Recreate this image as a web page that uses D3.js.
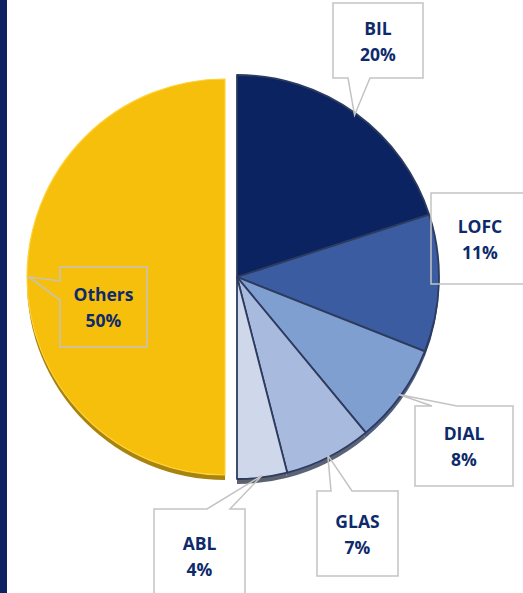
<!DOCTYPE html>
<html>
<head>
<meta charset="utf-8">
<script src="https://cdn.jsdelivr.net/npm/d3@7"></script>
<style>
  body { margin: 0; background: #fff; }
  svg { display: block; }
  .lbl { font-family: "Open Sans", sans-serif; font-weight: 700; font-size: 17.5px; fill: #0d2a6b; }
</style>
</head>
<body>
<div id="chart"></div>
<script>
// chart data
const names = ["BIL", "LOFC", "DIAL", "GLAS", "ABL", "Others"];
const shares = [20, 11, 8, 7, 4, 50];
const colors = ["#0b2461", "#3b5ca0", "#7f9fd1", "#a9badf", "#cfd8ea", "#f6bf0c"];
const rimColors = ["#0a1c44", "#2c426f", "#4f5f80", "#5a6377", "#5c6170", "#a8830e"];

// callout boxes: [x, y, w, h], pointer side and base
const boxes = [
  { box: [333, 3, 90, 75], side: "bottom", base: [348, 370] },
  { box: [431, 193, 95, 91], side: null, base: null },
  { box: [415, 406, 98, 80], side: "top", base: [432, 457] },
  { box: [317, 491, 81, 85], side: "top", base: [331, 352] },
  { box: [154, 509, 91, 90], side: "top", base: [207, 230] },
  { box: [60, 267, 87, 80], side: "left", base: [281, 300] }
];

const width = 523;
const height = 593;
const cx = 237, cy = 277;
const radius = 202;
const othersShift = -12;

const svg = d3.select("#chart").append("svg")
  .attr("width", width)
  .attr("height", height);

// left navy strip
svg.append("rect")
  .attr("x", 0).attr("y", 0)
  .attr("width", 7).attr("height", height)
  .attr("fill", "#0b2461");

const data = names.map((n, i) => ({ name: n, value: shares[i], i: i }));

const pie = d3.pie().sort(null).value(d => d.value);
const arcs = pie(data);

const arc = d3.arc().innerRadius(0).outerRadius(d => d.data.name === "Others" ? radius - 4 : radius);

const g = svg.append("g").attr("transform", `translate(${cx},${cy})`);

function shift(d) {
  return d.data.name === "Others" ? othersShift : 0;
}

// rim (bottom bevel)
g.selectAll("path.rim")
  .data(arcs)
  .enter()
  .append("path")
  .attr("class", "rim")
  .attr("transform", d => `translate(${shift(d)},5)`)
  .attr("d", arc)
  .attr("fill", d => rimColors[d.data.i]);

// slices
g.selectAll("path.slice")
  .data(arcs)
  .enter()
  .append("path")
  .attr("class", "slice")
  .attr("transform", d => `translate(${shift(d)},0)`)
  .attr("d", arc)
  .attr("fill", d => colors[d.data.i])
  .attr("stroke", d => d.data.name === "Others" ? "#ffd23a" : "#2d3b5e")
  .attr("stroke-width", d => d.data.name === "Others" ? 1.2 : 1.8)
  .attr("stroke-linejoin", "round");

// callouts
function calloutPath(b, tip) {
  const [x, y, w, h] = b.box;
  const p = d3.path();
  if (b.side === "top") {
    p.moveTo(x, y);
    p.lineTo(b.base[0], y);
    p.lineTo(tip[0], tip[1]);
    p.lineTo(b.base[1], y);
    p.lineTo(x + w, y);
    p.lineTo(x + w, y + h);
    p.lineTo(x, y + h);
    p.closePath();
  } else if (b.side === "bottom") {
    p.moveTo(x, y);
    p.lineTo(x + w, y);
    p.lineTo(x + w, y + h);
    p.lineTo(b.base[1], y + h);
    p.lineTo(tip[0], tip[1]);
    p.lineTo(b.base[0], y + h);
    p.lineTo(x, y + h);
    p.closePath();
  } else if (b.side === "left") {
    p.moveTo(x, y);
    p.lineTo(x + w, y);
    p.lineTo(x + w, y + h);
    p.lineTo(x, y + h);
    p.lineTo(x, b.base[1]);
    p.lineTo(tip[0], tip[1]);
    p.lineTo(x, b.base[0]);
    p.closePath();
  } else {
    p.rect(x, y, w, h);
  }
  return p.toString();
}

const labels = svg.append("g");

arcs.forEach((d, i) => {
  const b = boxes[i];
  const mid = (d.startAngle + d.endAngle) / 2;
  const r = d.data.name === "Others" ? radius - 6 : radius - 2;
  const tip = [cx + shift(d) + r * Math.sin(mid), cy - r * Math.cos(mid)];

  labels.append("path")
    .attr("d", calloutPath(b, tip))
    .attr("fill", "none")
    .attr("stroke", "#c3c3c3")
    .attr("stroke-width", 1.5);

  const [x, y, w, h] = b.box;
  let tx = x + w / 2;
  if (d.data.name === "LOFC") tx = 480;
  const ty = d.data.name === "ABL" ? y + 41 : y + h / 2 - 6;

  labels.append("text")
    .attr("class", "lbl")
    .attr("x", tx)
    .attr("y", ty)
    .attr("text-anchor", "middle")
    .text(d.data.name);

  labels.append("text")
    .attr("class", "lbl")
    .attr("x", tx)
    .attr("y", ty + 26)
    .attr("text-anchor", "middle")
    .text(d.data.value + "%");
});
</script>
</body>
</html>
